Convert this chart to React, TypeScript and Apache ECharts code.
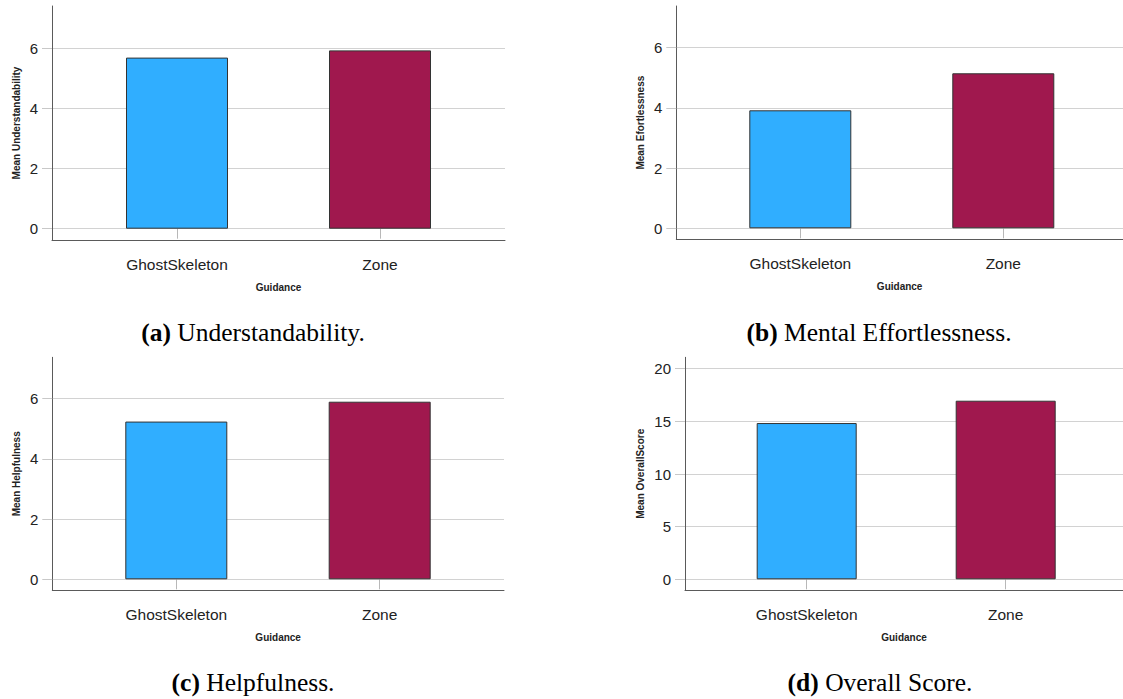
import React, { useEffect, useRef } from "react";
import * as echarts from "echarts";

const CATEGORIES = ["GhostSkeleton", "Zone"];
const UNDERSTANDABILITY = [5.69, 5.93];
const EFFORTLESSNESS = [3.92, 5.15];
const HELPFULNESS = [5.24, 5.9];
const OVERALL_SCORE = [14.84, 16.96];
const BAR_COLORS = ["#30AEFF", "#A0184E"];
const X_TITLE = "Guidance";
const Y_TITLES = ["Mean Understandability", "Mean Efortlessness", "Mean Helpfulness", "Mean OverallScore"];
const CAPTION_TAGS = ["(a)", "(b)", "(c)", "(d)"];
const CAPTION_TEXTS = ["Understandability.", "Mental Effortlessness.", "Helpfulness.", "Overall Score."];
const SMALL_AXIS = { max: 6, interval: 2 };
const OVERALL_AXIS = { max: 20, interval: 5 };

const SANS = "Liberation Sans, Arial, sans-serif";
const SERIF = "Liberation Serif, Times New Roman, serif";
const CAPTION_SIZE = 25.5;

const PANELS = [
  { values: UNDERSTANDABILITY, axis: SMALL_AXIS, ax: 52, top: 6, zeroY: 228.7, axisY: 240, right: 505, unit: 30.07, c1: 177, c2: 380, barW: 102, nameGap: 31, capX: 253, capY: 332.2 },
  { values: EFFORTLESSNESS, axis: SMALL_AXIS, ax: 676.3, top: 6, zeroY: 228.3, axisY: 239.3, right: 1128, unit: 30.1, c1: 800.3, c2: 1003.3, barW: 102, nameGap: 31, capX: 879, capY: 332.2 },
  { values: HELPFULNESS, axis: SMALL_AXIS, ax: 52.3, top: 357.3, zeroY: 579.3, axisY: 590.3, right: 504, unit: 30.1, c1: 176.3, c2: 379.7, barW: 102, nameGap: 31, capX: 253, capY: 682.5 },
  { values: OVERALL_SCORE, axis: OVERALL_AXIS, ax: 685, top: 357.3, zeroY: 579.3, axisY: 590.3, right: 1127, unit: 10.53, c1: 806.7, c2: 1005.7, barW: 100, nameGap: 40, capX: 880, capY: 682.5 },
];

function buildOption() {
  const grid: any[] = [];
  const xAxis: any[] = [];
  const yAxis: any[] = [];
  const series: any[] = [];
  const graphic: any[] = [];
  const axisLineStyle = { color: "#5a5a5a", width: 1 };
  const nameStyle = { fontFamily: SANS, fontWeight: "bold", fontSize: 10, color: "#222" };

  PANELS.forEach((p, i) => {
    const plotH = p.axis.max * p.unit;
    const plotTop = p.zeroY - plotH;
    const spacing = p.c2 - p.c1;
    const f = grid.length;
    grid.push({ left: p.ax, top: p.top, width: p.right - p.ax, height: p.axisY - p.top, containLabel: false });
    const v = grid.length;
    grid.push({ left: p.ax, top: plotTop, width: p.right - p.ax, height: plotH, containLabel: false });
    const b = grid.length;
    grid.push({ left: p.c1 - spacing / 2, top: plotTop, width: spacing * 2, height: plotH, containLabel: false });

    // frame
    xAxis.push({
      gridIndex: f, type: "category", data: [""],
      axisLine: { show: true, onZero: false, lineStyle: axisLineStyle },
      axisTick: { show: false }, axisLabel: { show: false }, splitLine: { show: false },
      name: X_TITLE, nameLocation: "middle", nameGap: 42, nameTextStyle: nameStyle,
    });
    yAxis.push({
      gridIndex: f, type: "value", min: 0, max: 1,
      axisLine: { show: true, onZero: false, lineStyle: axisLineStyle },
      axisTick: { show: false }, axisLabel: { show: false }, splitLine: { show: false },
      name: Y_TITLES[i], nameLocation: "middle", nameGap: p.nameGap, nameTextStyle: nameStyle,
    });
    // values / gridlines
    xAxis.push({ gridIndex: v, type: "category", data: [""], show: false });
    yAxis.push({
      gridIndex: v, type: "value", min: 0, max: p.axis.max, interval: p.axis.interval,
      axisLine: { show: false },
      axisTick: { show: true, length: 10, lineStyle: { color: "#c8c8c8" } },
      axisLabel: { margin: 14, fontSize: 15, color: "#222", fontFamily: SANS },
      splitLine: { show: true, lineStyle: { color: "#d2d2d2", width: 1 } },
    });
    // bars
    xAxis.push({
      gridIndex: b, type: "category", data: CATEGORIES, offset: p.axisY - p.zeroY,
      axisLine: { show: false },
      axisTick: { show: true, alignWithLabel: true, length: 10, lineStyle: { color: "#b8b8b8" } },
      axisLabel: { margin: 16.5, fontSize: 15.5, color: "#222", fontFamily: SANS },
      splitLine: { show: false },
    });
    yAxis.push({ gridIndex: b, type: "value", min: 0, max: p.axis.max, show: false });
    series.push({
      type: "bar", xAxisIndex: xAxis.length - 1, yAxisIndex: yAxis.length - 1,
      barWidth: p.barW,
      data: p.values.map((val, k) => ({ value: val, itemStyle: { color: BAR_COLORS[k] } })),
      itemStyle: { borderColor: "#333", borderWidth: 1 },
    });

    graphic.push({
      type: "text", x: p.capX, y: p.capY,
      style: {
        text: `{b|${CAPTION_TAGS[i]}} ${CAPTION_TEXTS[i]}`,
        rich: { b: { fontWeight: "bold", fontFamily: SERIF, fontSize: CAPTION_SIZE, fill: "#000" } },
        fontFamily: SERIF, fontSize: CAPTION_SIZE, fill: "#000",
        align: "center", verticalAlign: "middle",
      },
    });
  });

  return { animation: false, backgroundColor: "#fff", grid, xAxis, yAxis, series, graphic };
}

export default function App() {
  const ref = useRef<HTMLDivElement>(null);
  useEffect(() => {
    if (!ref.current) return;
    const chart = echarts.init(ref.current, undefined, { renderer: "svg" });
    chart.setOption(buildOption() as any);
    return () => chart.dispose();
  }, []);
  return <div ref={ref} style={{ position: "absolute", left: 0, top: 0, width: 1123, height: 699, background: "#fff" }} />;
}
